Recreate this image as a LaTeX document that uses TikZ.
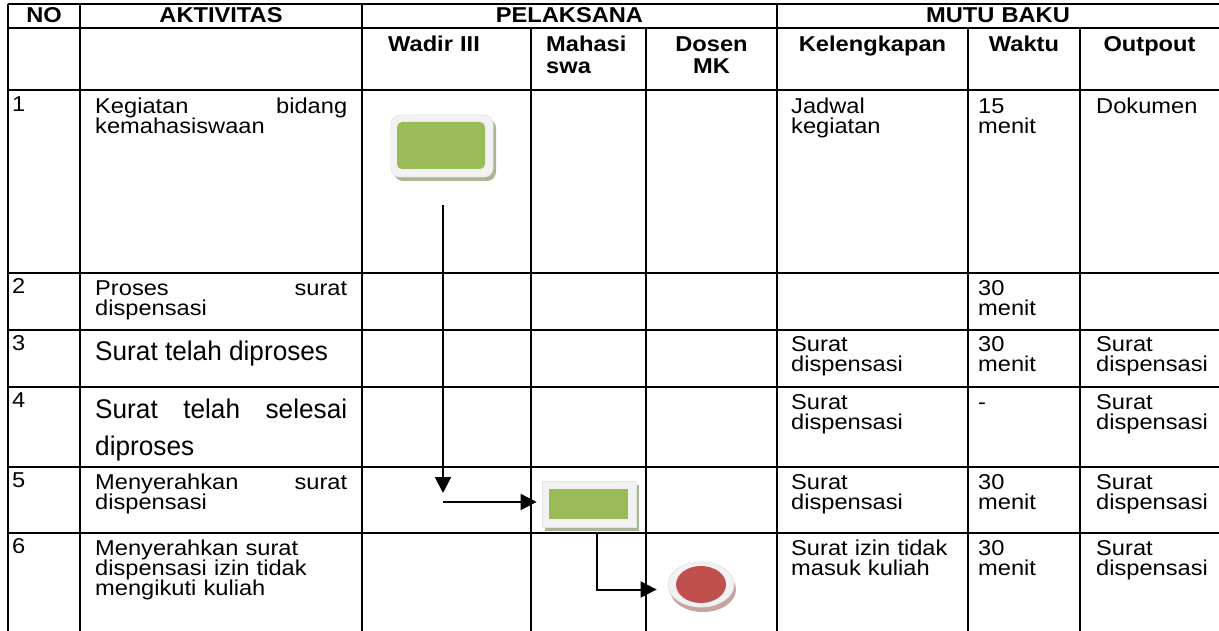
\documentclass[tikz,border=0pt]{standalone}
\usepackage{fontspec}
\setmainfont{Liberation Sans}[FakeStretch=1.1]
\newfontfamily\bigfamily{Liberation Sans}[FakeStretch=0.97]
\usetikzlibrary{arrows.meta,shapes.geometric,shadows}
\definecolor{oliveG}{HTML}{9BBB59}
\definecolor{lightB}{HTML}{F2F2F2}
\definecolor{edgeB}{HTML}{E4E4E4}
\definecolor{shadG}{HTML}{A9B595}
\definecolor{redE}{HTML}{C0504D}
\definecolor{shadR}{HTML}{C7A2A1}
\newcommand\bodyf{\fontsize{21.5pt}{20pt}\selectfont\lineskiplimit=-100pt\relax}
\newcommand\headf{\bfseries\fontsize{21.5pt}{22pt}\selectfont\lineskiplimit=-100pt\relax}
\newcommand\bigf{\bigfamily\fontsize{27pt}{37pt}\selectfont\lineskiplimit=-100pt\relax}
\newcommand\jl[1]{\hbox to 252pt{#1}}
\tikzset{
  tl/.style={line width=2.2pt},
  txt/.style={anchor=base west, inner sep=0pt, font=\bodyf, align=left, text width=#1},
  txt/.default=170pt,
  num/.style={anchor=base west, inner sep=0pt, font=\bodyf},
  hd/.style={anchor=base, inner sep=0pt, font=\headf, align=center, text width=#1},
  hd/.default=250pt,
  arr/.style={line width=2pt, -{Triangle[length=16pt,width=16pt]}},
  greenbox/.style={fill=lightB, draw=edgeB, line width=0.8pt, inner sep=0pt,
    general shadow={fill=shadG, shadow xshift=3pt, shadow yshift=-4pt}},
}
\begin{document}
\begin{tikzpicture}[x=1pt,y=-1pt]
\useasboundingbox (0,0) rectangle (1219,631);
% table rules
\foreach \yy in {4,28,90,273,330,387,467,533}
  \draw[tl] (8,\yy) -- (1219,\yy);
\foreach \xx in {8,80,362,777}
  \draw[tl] (\xx,4) -- (\xx,631);
\foreach \xx in {531,646,968,1080}
  \draw[tl] (\xx,28) -- (\xx,631);
% header
\node[hd=60pt] (hNO) at (44,23) {NO};
\node[hd] (hAK) at (221,23) {AKTIVITAS};
\node[hd] (hPL) at (569.5,23) {PELAKSANA};
\node[hd] (hMB) at (998,23) {MUTU BAKU};
\node[hd=150pt] (hWD) at (434,52) {Wadir III};
\node[hd=100pt, anchor=base west, align=left] (hMH) at (546,52) {Mahasi\\swa};
\node[hd=120pt] (hDS) at (711.5,52) {Dosen\\MK};
\node[hd=180pt] (hKL) at (872.5,52) {Kelengkapan};
\node[hd=110pt] (hWK) at (1024,52) {Waktu};
\node[hd=130pt] (hOP) at (1149.5,52) {Outpout};
% row 1
\node[num] (n1) at (12,112) {1};
\node[txt=252pt] (a1) at (95,114) {\jl{Kegiatan\hfill bidang}\\kemahasiswaan};
\node[txt] (k1) at (791,114) {Jadwal\\kegiatan};
\node[txt=100pt] (w1) at (978,114) {15\\menit};
\node[txt=120pt] (o1) at (1096,114) {Dokumen};
% row 2
\node[num] (n2) at (12,294) {2};
\node[txt=252pt] (a2) at (95,296) {\jl{Proses\hfill surat}\\dispensasi};
\node[txt=100pt] (w2) at (978,296) {30\\menit};
% row 3
\node[num] (n3) at (12,350) {3};
\node[anchor=base west, inner sep=0pt, font=\bigf] (a3) at (95,360) {Surat telah diproses};
\node[txt] (k3) at (791,352) {Surat\\dispensasi};
\node[txt=100pt] (w3) at (978,352) {30\\menit};
\node[txt=120pt] (o3) at (1096,352) {Surat\\dispensasi};
% row 4
\node[num] (n4) at (12,407) {4};
\node[anchor=base west, inner sep=0pt, font=\bigf, align=left, text width=252pt] (a4) at (95,418) {\jl{Surat\hfill telah\hfill selesai}\\diproses};
\node[txt] (k4) at (791,409) {Surat\\dispensasi};
\node[txt=100pt] (w4) at (978,409) {-};
\node[txt=120pt] (o4) at (1096,409) {Surat\\dispensasi};
% row 5
\node[num] (n5) at (12,487) {5};
\node[txt=252pt] (a5) at (95,489) {\jl{Menyerahkan\hfill surat}\\dispensasi};
\node[txt] (k5) at (791,489) {Surat\\dispensasi};
\node[txt=100pt] (w5) at (978,489) {30\\menit};
\node[txt=120pt] (o5) at (1096,489) {Surat\\dispensasi};
% row 6
\node[num] (n6) at (12,553) {6};
\node[txt=252pt] (a6) at (95,555) {Menyerahkan surat\\dispensasi izin tidak\\mengikuti kuliah};
\node[txt] (k6) at (791,555) {Surat izin tidak\\masuk kuliah};
\node[txt=100pt] (w6) at (978,555) {30\\menit};
\node[txt=120pt] (o6) at (1096,555) {Surat\\dispensasi};
% flow shapes
\node[greenbox, rounded corners=9pt, minimum width=102pt, minimum height=62pt,
  path picture={\fill[oliveG, rounded corners=5pt]
    ([shift={(6pt,-7pt)}]path picture bounding box.north west) rectangle
    ([shift={(-8pt,8pt)}]path picture bounding box.south east);}]
  (b1) at (442,146) {};
\node[greenbox, minimum width=94pt, minimum height=46pt,
  path picture={\fill[oliveG]
    ([shift={(7pt,-8pt)}]path picture bounding box.north west) rectangle
    ([shift={(-8pt,8pt)}]path picture bounding box.south east);}]
  (b2) at (589,504) {};
\node[ellipse, fill=lightB, draw=edgeB, line width=0.8pt, inner sep=0pt,
  minimum width=66pt, minimum height=45pt,
  general shadow={fill=shadR, shadow xshift=2pt, shadow yshift=-5pt},
  path picture={\fill[redE] (path picture bounding box.center) ellipse [x radius=25pt, y radius=18.5pt];}]
  (e1) at (701,584.5) {};
% connectors
\coordinate (p1) at (443,493);
\coordinate (p2) at (443,502);
\draw[arr, shorten <=28pt] (p1 |- b1.south) -- (p1);
\draw[arr, shorten >=5pt] (p2) -- (p2 -| b2.west);
\draw[arr, shorten <=5pt, shorten >=11pt] ([xshift=8pt]b2.south) |- ([yshift=-5pt]e1.west);
\end{tikzpicture}
\end{document}
